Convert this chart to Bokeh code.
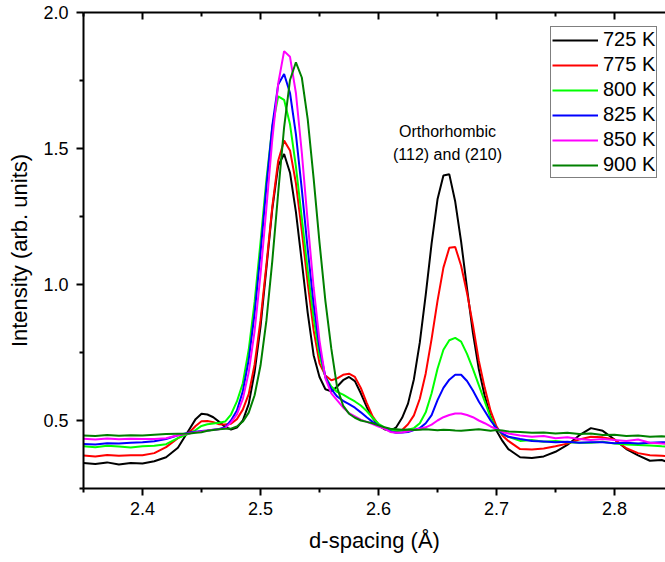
from bokeh.plotting import figure
from bokeh.models import Range1d, LinearAxis, FixedTicker, NumeralTickFormatter
from bokeh.embed import file_html
from bokeh.resources import INLINE
from bokeh.core.properties import value

# ---------------- data ----------------
d_spacing = [2.35, 2.36, 2.37, 2.38, 2.39, 2.40, 2.41, 2.42, 2.43, 2.44,
             2.445, 2.45, 2.455, 2.46, 2.465, 2.47, 2.475, 2.48, 2.485, 2.49,
             2.495, 2.50, 2.505, 2.51, 2.515, 2.52, 2.525, 2.53, 2.535, 2.54,
             2.545, 2.55, 2.555, 2.56, 2.565, 2.57, 2.575, 2.58, 2.585, 2.59,
             2.595, 2.60, 2.605, 2.61, 2.615, 2.62, 2.625, 2.63, 2.635, 2.64,
             2.645, 2.65, 2.655, 2.66, 2.665, 2.67, 2.675, 2.68, 2.685, 2.69,
             2.695, 2.70, 2.705, 2.71, 2.72, 2.73, 2.74, 2.75, 2.76, 2.77,
             2.78, 2.79, 2.80, 2.81, 2.82, 2.83, 2.84, 2.85]

t725 = [0.344, 0.340, 0.346, 0.338, 0.344, 0.342, 0.350, 0.365, 0.400, 0.470,
        0.505, 0.525, 0.522, 0.512, 0.495, 0.476, 0.467, 0.474, 0.500, 0.560,
        0.678, 0.845, 1.060, 1.278, 1.437, 1.480, 1.411, 1.267, 1.083, 0.896,
        0.740, 0.660, 0.615, 0.607, 0.625, 0.648, 0.660, 0.645, 0.600, 0.550,
        0.510, 0.482, 0.468, 0.462, 0.475, 0.510, 0.562, 0.652, 0.787, 0.962,
        1.151, 1.313, 1.401, 1.405, 1.305, 1.158, 0.986, 0.822, 0.689, 0.590,
        0.515, 0.462, 0.425, 0.395, 0.365, 0.362, 0.368, 0.385, 0.410, 0.445,
        0.472, 0.462, 0.430, 0.395, 0.372, 0.352, 0.355, 0.340]

t775 = [0.371, 0.368, 0.373, 0.370, 0.372, 0.372, 0.380, 0.402, 0.435, 0.458,
        0.480, 0.497, 0.498, 0.494, 0.486, 0.485, 0.488, 0.505, 0.540, 0.597,
        0.706, 0.868, 1.073, 1.286, 1.455, 1.529, 1.493, 1.373, 1.197, 1.006,
        0.832, 0.710, 0.665, 0.648, 0.655, 0.668, 0.672, 0.660, 0.620, 0.565,
        0.515, 0.485, 0.470, 0.463, 0.460, 0.465, 0.486, 0.519, 0.580, 0.673,
        0.800, 0.940, 1.062, 1.135, 1.138, 1.069, 0.969, 0.851, 0.720, 0.620,
        0.535, 0.478, 0.445, 0.425, 0.395, 0.393, 0.397, 0.405, 0.415, 0.430,
        0.440, 0.438, 0.430, 0.398, 0.380, 0.372, 0.370, 0.368]

t800 = [0.405, 0.402, 0.407, 0.404, 0.401, 0.405, 0.407, 0.413, 0.435, 0.453,
        0.465, 0.480, 0.486, 0.489, 0.492, 0.496, 0.522, 0.570, 0.637, 0.760,
        0.936, 1.155, 1.386, 1.579, 1.692, 1.679, 1.589, 1.434, 1.244, 1.052,
        0.878, 0.739, 0.660, 0.625, 0.605, 0.595, 0.582, 0.570, 0.555, 0.535,
        0.510, 0.488, 0.475, 0.466, 0.462, 0.463, 0.466, 0.472, 0.490, 0.530,
        0.600, 0.690, 0.760, 0.795, 0.804, 0.790, 0.745, 0.690, 0.630, 0.570,
        0.510, 0.470, 0.450, 0.440, 0.425, 0.428, 0.422, 0.425, 0.420, 0.418,
        0.418, 0.422, 0.415, 0.412, 0.410, 0.408, 0.405, 0.404]

t825 = [0.414, 0.412, 0.416, 0.415, 0.418, 0.420, 0.424, 0.432, 0.446, 0.456,
        0.459, 0.461, 0.463, 0.466, 0.469, 0.475, 0.500, 0.537, 0.607, 0.723,
        0.894, 1.115, 1.360, 1.584, 1.735, 1.774, 1.704, 1.553, 1.350, 1.130,
        0.929, 0.766, 0.660, 0.615, 0.588, 0.572, 0.560, 0.547, 0.530, 0.512,
        0.495, 0.482, 0.472, 0.460, 0.455, 0.456, 0.458, 0.465, 0.472, 0.490,
        0.520, 0.575, 0.620, 0.650, 0.668, 0.668, 0.645, 0.610, 0.570, 0.535,
        0.500, 0.472, 0.452, 0.440, 0.432, 0.425, 0.423, 0.420, 0.422, 0.418,
        0.420, 0.420, 0.416, 0.418, 0.415, 0.418, 0.420, 0.420]

t850 = [0.433, 0.430, 0.434, 0.431, 0.433, 0.432, 0.432, 0.435, 0.446, 0.453,
        0.457, 0.460, 0.463, 0.466, 0.468, 0.472, 0.493, 0.522, 0.579, 0.677,
        0.829, 1.036, 1.282, 1.533, 1.739, 1.858, 1.837, 1.704, 1.485, 1.230,
        0.990, 0.794, 0.655, 0.600, 0.574, 0.548, 0.527, 0.515, 0.503, 0.495,
        0.487, 0.478, 0.470, 0.458, 0.455, 0.456, 0.460, 0.466, 0.470, 0.475,
        0.485, 0.500, 0.512, 0.520, 0.526, 0.526, 0.520, 0.512, 0.500, 0.490,
        0.478, 0.468, 0.458, 0.452, 0.445, 0.440, 0.443, 0.435, 0.438, 0.432,
        0.428, 0.432, 0.428, 0.425, 0.430, 0.418, 0.415, 0.413]

t900 = [0.445, 0.443, 0.447, 0.444, 0.446, 0.445, 0.448, 0.450, 0.451, 0.452,
        0.455, 0.457, 0.462, 0.465, 0.468, 0.470, 0.470, 0.478, 0.496, 0.529,
        0.593, 0.702, 0.867, 1.087, 1.338, 1.578, 1.752, 1.817, 1.761, 1.608,
        1.391, 1.154, 0.939, 0.764, 0.620, 0.555, 0.525, 0.510, 0.500, 0.495,
        0.490, 0.482, 0.475, 0.470, 0.468, 0.466, 0.467, 0.465, 0.466, 0.468,
        0.466, 0.464, 0.466, 0.465, 0.463, 0.462, 0.464, 0.466, 0.468, 0.465,
        0.462, 0.465, 0.463, 0.460, 0.458, 0.455, 0.456, 0.452, 0.455, 0.450,
        0.452, 0.447, 0.448, 0.443, 0.445, 0.440, 0.442, 0.440]

series_labels = ["725 K", "775 K", "800 K", "825 K", "850 K", "900 K"]
series_values = [t725, t775, t800, t825, t850, t900]
series_colors = ["#000000", "#FF0000", "#00FF00", "#0000FF", "#FF00FF", "#008000"]

x_major = [2.4, 2.5, 2.6, 2.7, 2.8]
x_minor = [2.35, 2.45, 2.55, 2.65, 2.75, 2.85]
y_major = [0.5, 1.0, 1.5, 2.0]
y_minor = [0.25, 0.75, 1.25, 1.75]

note_x = [2.6585, 2.6585]
note_y = [1.562, 1.478]
note_text = ["Orthorhombic", "(112) and (210)"]

FONT = "Liberation Sans"

# ---------------- figure ----------------
p = figure(width=665, height=562, output_backend="svg", toolbar_location=None,
           x_range=Range1d(2.35, 2.8432), y_range=Range1d(0.25, 2.0),
           min_border_left=83, min_border_right=0, min_border_top=12,
           min_border_bottom=74,
           x_axis_label="d-spacing (Å)", y_axis_label="Intensity (arb. units)")
p.outline_line_color = None
p.xgrid.visible = False
p.ygrid.visible = False
p.background_fill_color = "white"
p.border_fill_color = "white"

for lab, vals, col in zip(series_labels, series_values, series_colors):
    p.line(d_spacing, vals, line_color=col, line_width=2, legend_label=lab)

p.text(x=note_x, y=note_y, text=note_text, text_font=value(FONT),
       text_font_size=value("16px"), text_align="center",
       text_baseline="middle", text_color="black")


def style_axis(ax, major, minor, tick_in=0, tick_out=7, mtick_in=0, mtick_out=4):
    ax.ticker = FixedTicker(ticks=major, minor_ticks=minor)
    ax.formatter = NumeralTickFormatter(format="0.0")
    ax.axis_line_width = 2
    ax.axis_line_color = "black"
    ax.major_tick_line_width = 2
    ax.minor_tick_line_width = 2
    ax.major_tick_line_color = "black"
    ax.minor_tick_line_color = "black"
    ax.major_tick_in = tick_in
    ax.major_tick_out = tick_out
    ax.minor_tick_in = mtick_in
    ax.minor_tick_out = mtick_out
    ax.major_label_text_font = FONT
    ax.major_label_text_font_size = "18px"
    ax.major_label_text_color = "black"
    ax.axis_label_text_font = FONT
    ax.axis_label_text_font_size = "22px"
    ax.axis_label_text_font_style = "normal"
    ax.axis_label_text_color = "black"


xa = p.xaxis[0]
style_axis(xa, x_major, x_minor)
xa.major_label_standoff = 6
xa.axis_label_standoff = 10

ya = p.yaxis[0]
style_axis(ya, y_major, y_minor)
ya.major_label_standoff = 8
ya.axis_label_standoff = 8

top = LinearAxis()
style_axis(top, x_major, x_minor, tick_in=7, tick_out=0, mtick_in=4, mtick_out=0)
top.major_label_text_font_size = "1px"
top.major_label_text_color = None
top.major_label_standoff = 0
top.axis_label = None
p.add_layout(top, "above")

lg = p.legend[0]
lg.location = (467, 310)
lg.label_text_font = FONT
lg.label_text_font_size = "20px"
lg.label_text_color = "black"
lg.glyph_width = 46
lg.glyph_height = 20
lg.label_height = 20
lg.label_standoff = 5
lg.padding = 1
lg.spacing = 2
lg.margin = 0
lg.border_line_color = "black"
lg.border_line_width = 1
lg.background_fill_color = "white"
lg.background_fill_alpha = 1.0

open("out.html", "w").write(file_html(p, INLINE))
